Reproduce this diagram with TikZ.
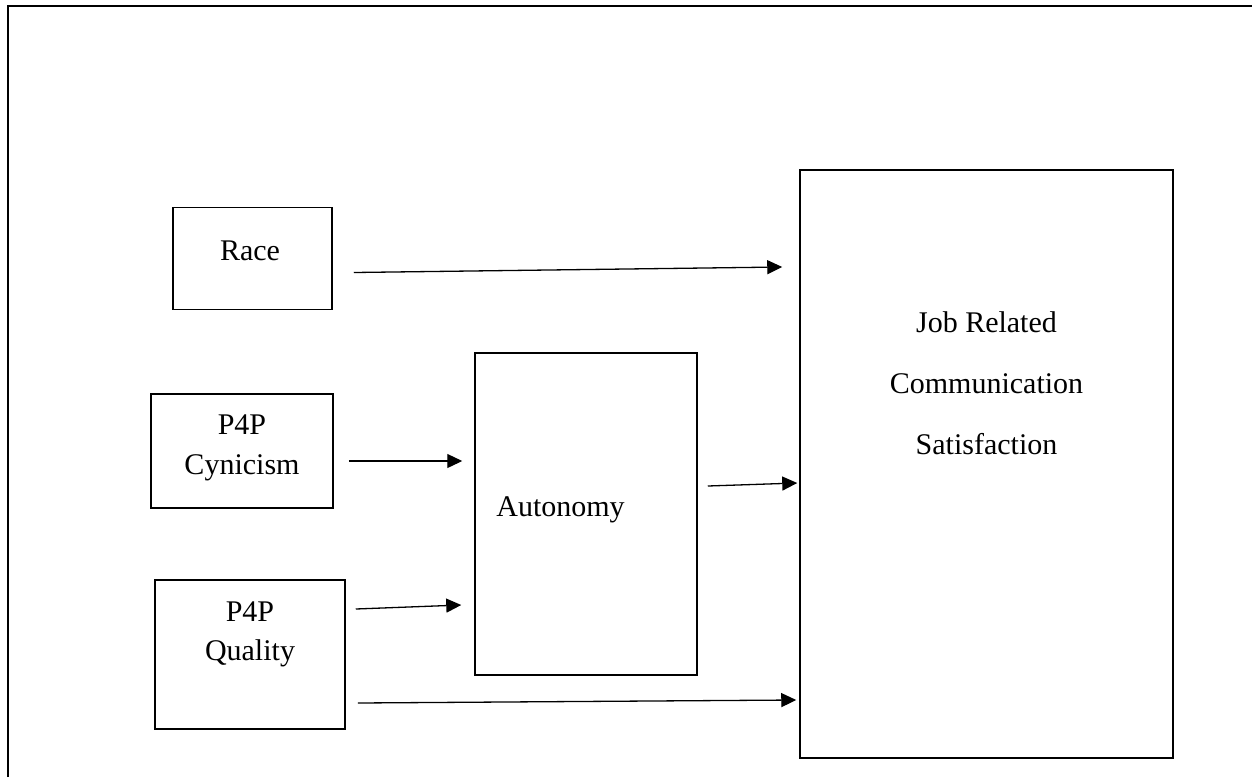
\documentclass[tikz,border=0pt]{standalone}
\usepackage{fontspec}
\setmainfont{Liberation Serif}
\usetikzlibrary{arrows.meta,calc}
\begin{document}
\begin{tikzpicture}[x=0.5pt,y=-0.5pt,
  box/.style={draw, line width=0.75pt, rectangle, inner sep=0pt},
  txt/.style={inner sep=0pt, font=\fontsize{15}{20}\selectfont, align=center},
  link/.style={line width=0.65pt, -{Triangle[length=7.5pt,width=7pt]}}]
  \useasboundingbox (0,0) rectangle (1252,777);
  % outer frame (open at right and bottom)
  \draw[line width=1.1pt] (8,777) -- (8,6) -- (1252,6);

  % boxes
  \node[box, minimum width=79.5pt, minimum height=51pt]  (race) at (252.5,258.5) {};
  \node[box, minimum width=91pt,   minimum height=57pt]  (cyn)  at (242,451) {};
  \node[box, minimum width=95pt,   minimum height=74.5pt](qual) at (250,654.5) {};
  \node[box, minimum width=111pt,  minimum height=161pt] (aut)  at (586,514) {};
  \node[box, minimum width=186.5pt,minimum height=294pt] (jrcs) at (986.5,464) {};

  % labels (base anchor sits on the last line)
  \node[txt, anchor=base] (raceT) at (250,260) {Race};
  \node[txt, anchor=base] (cynT)  at (242,474) {P4P\\Cynicism};
  \node[txt, anchor=base] (qualT) at (250,660) {P4P\\[-0.5pt]Quality};
  \node[txt, anchor=base west] (autT) at (496,516) {Autonomy};
  \node[txt, anchor=base, font=\fontsize{15}{30.5}\selectfont] (jrcsT) at (986.5,454)
    {Job Related\\Communication\\Satisfaction};

  % connector end points
  \coordinate (raceOut) at ($(race.east)+(21,14)$);
  \coordinate (raceIn)  at ($(jrcs.west)+(-17,-197)$);
  \coordinate (cynOut)  at ($(cyn.east)+(15,10)$);
  \coordinate (cynIn)   at ($(aut.west)+(-12,-53)$);
  \coordinate (qualOutA) at ($(qual.east)+(10,-45.5)$);
  \coordinate (qualInA)  at ($(aut.west)+(-13,91)$);
  \coordinate (autOut)  at ($(aut.east)+(10,-28)$);
  \coordinate (autIn)   at ($(jrcs.west)+(-2,19)$);
  \coordinate (qualOutB) at ($(qual.east)+(12,48.5)$);
  \coordinate (qualInB)  at ($(jrcs.west)+(-3,236)$);

  % connectors
  \draw[link] (raceOut) -- (raceIn);
  \draw[link] (cynOut) -- (cynIn);
  \draw[link] (qualOutA) -- (qualInA);
  \draw[link] (autOut) -- (autIn);
  \draw[link] (qualOutB) -- (qualInB);
\end{tikzpicture}
\end{document}
